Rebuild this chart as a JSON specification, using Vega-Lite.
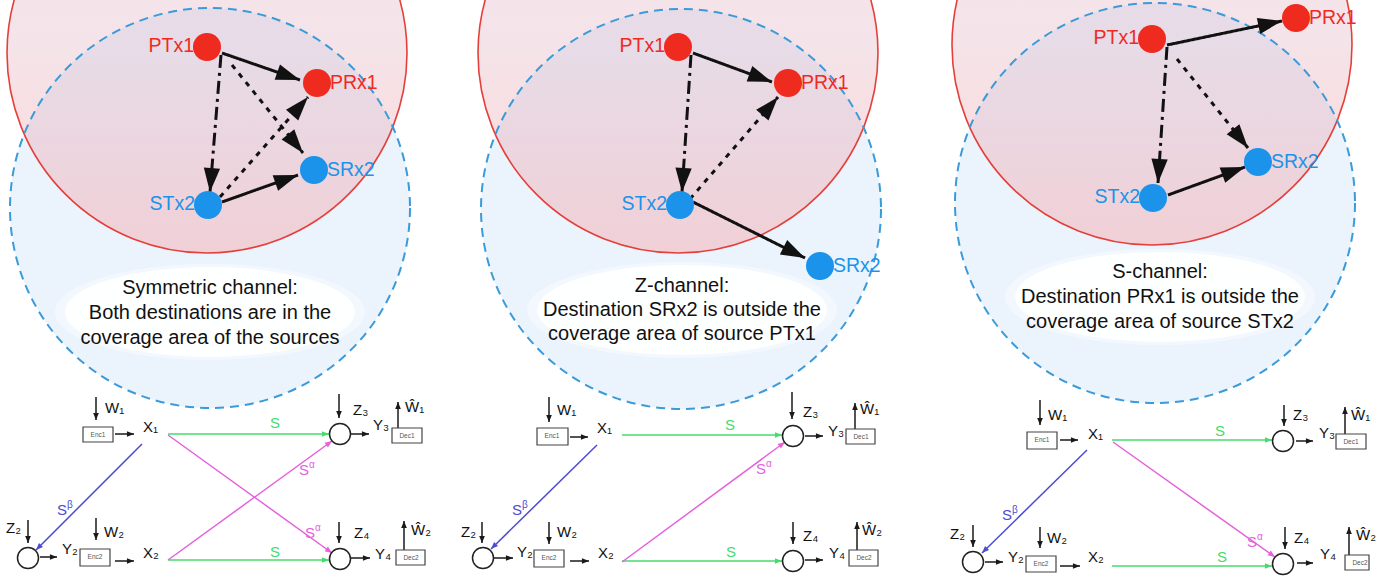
{
  "$schema": "https://vega.github.io/schema/vega-lite/v6.json",
  "width": 1391,
  "height": 576,
  "autosize": {"type": "none"},
  "padding": 0,
  "background": "white",
  "config": {"view": {"stroke": null}, "font": "Liberation Sans"},
  "datasets": {
    "zones": [
      {"panel": 1, "kind": "primary", "x": 207, "y": 53},
      {"panel": 1, "kind": "secondary", "x": 210, "y": 208},
      {"panel": 2, "kind": "primary", "x": 678, "y": 53},
      {"panel": 2, "kind": "secondary", "x": 681, "y": 209},
      {"panel": 3, "kind": "primary", "x": 1152, "y": 45},
      {"panel": 3, "kind": "secondary", "x": 1155, "y": 203}
    ],
    "captions": [
      {"panel": 1, "x": 210, "y": 312},
      {"panel": 2, "x": 682, "y": 310},
      {"panel": 3, "x": 1160, "y": 297}
    ],
    "captionLines": [
      {"panel": 1, "x": 210, "y": 288, "text": "Symmetric channel:"},
      {"panel": 1, "x": 210, "y": 313, "text": "Both destinations are in the"},
      {"panel": 1, "x": 210, "y": 338, "text": "coverage area of the sources"},
      {"panel": 2, "x": 682, "y": 286, "text": "Z-channel:"},
      {"panel": 2, "x": 682, "y": 310, "text": "Destination SRx2 is outside the"},
      {"panel": 2, "x": 682, "y": 334, "text": "coverage area of source PTx1"},
      {"panel": 3, "x": 1160, "y": 272, "text": "S-channel:"},
      {"panel": 3, "x": 1160, "y": 297, "text": "Destination PRx1 is outside the"},
      {"panel": 3, "x": 1160, "y": 322, "text": "coverage area of source STx2"}
    ],
    "nodes": [
      {"panel": 1, "name": "PTx1", "kind": "primary", "side": "left", "x": 207, "y": 47},
      {"panel": 1, "name": "PRx1", "kind": "primary", "side": "right", "x": 317, "y": 83},
      {"panel": 1, "name": "SRx2", "kind": "secondary", "side": "right", "x": 314, "y": 170},
      {"panel": 1, "name": "STx2", "kind": "secondary", "side": "left", "x": 208, "y": 205},
      {"panel": 2, "name": "PTx1", "kind": "primary", "side": "left", "x": 678, "y": 47},
      {"panel": 2, "name": "PRx1", "kind": "primary", "side": "right", "x": 788, "y": 83},
      {"panel": 2, "name": "STx2", "kind": "secondary", "side": "left", "x": 680, "y": 205},
      {"panel": 2, "name": "SRx2", "kind": "secondary", "side": "right", "x": 820, "y": 266},
      {"panel": 3, "name": "PTx1", "kind": "primary", "side": "left", "x": 1152, "y": 39},
      {"panel": 3, "name": "PRx1", "kind": "primary", "side": "right", "x": 1296, "y": 18},
      {"panel": 3, "name": "STx2", "kind": "secondary", "side": "left", "x": 1153, "y": 198},
      {"panel": 3, "name": "SRx2", "kind": "secondary", "side": "right", "x": 1258, "y": 162}
    ],
    "arrows": [
      {"panel": 1, "kind": "link-solid", "xa": 222, "ya": 53, "xb": 300, "yb": 80},
      {"panel": 1, "kind": "link-dashdot", "xa": 221, "ya": 55, "xb": 210, "yb": 192},
      {"panel": 1, "kind": "link-dotted", "xa": 232, "ya": 65, "xb": 303, "yb": 153},
      {"panel": 1, "kind": "link-dotted", "xa": 220, "ya": 197, "xb": 308, "yb": 97},
      {"panel": 1, "kind": "link-solid", "xa": 222, "ya": 202, "xb": 298, "yb": 175},
      {"panel": 1, "kind": "signal", "xa": 96, "ya": 397, "xb": 96, "yb": 420},
      {"panel": 1, "kind": "signal", "xa": 115, "ya": 434, "xb": 134, "yb": 434},
      {"panel": 1, "kind": "signal", "xa": 339, "ya": 394, "xb": 339, "yb": 418},
      {"panel": 1, "kind": "signal", "xa": 351, "ya": 434, "xb": 369, "yb": 434},
      {"panel": 1, "kind": "signal", "xa": 398, "ya": 428, "xb": 398, "yb": 402},
      {"panel": 1, "kind": "signal", "xa": 28, "ya": 520, "xb": 28, "yb": 543},
      {"panel": 1, "kind": "signal", "xa": 40, "ya": 557, "xb": 57, "yb": 557},
      {"panel": 1, "kind": "signal", "xa": 96, "ya": 518, "xb": 96, "yb": 540},
      {"panel": 1, "kind": "signal", "xa": 115, "ya": 561, "xb": 134, "yb": 561},
      {"panel": 1, "kind": "signal", "xa": 339, "ya": 522, "xb": 339, "yb": 543},
      {"panel": 1, "kind": "signal", "xa": 351, "ya": 558, "xb": 370, "yb": 558},
      {"panel": 1, "kind": "signal", "xa": 404, "ya": 550, "xb": 404, "yb": 521},
      {"panel": 1, "kind": "chan-direct", "xa": 168, "ya": 434, "xb": 329, "yb": 434},
      {"panel": 1, "kind": "chan-direct", "xa": 168, "ya": 560, "xb": 329, "yb": 560},
      {"panel": 1, "kind": "chan-cross", "xa": 168, "ya": 435, "xb": 332, "yb": 553},
      {"panel": 1, "kind": "chan-cross", "xa": 168, "ya": 560, "xb": 332, "yb": 441},
      {"panel": 1, "kind": "chan-beta", "xa": 142, "ya": 444, "xb": 36, "yb": 550},
      {"panel": 2, "kind": "link-solid", "xa": 693, "ya": 53, "xb": 772, "yb": 82},
      {"panel": 2, "kind": "link-dashdot", "xa": 691, "ya": 55, "xb": 682, "yb": 192},
      {"panel": 2, "kind": "link-dotted", "xa": 690, "ya": 199, "xb": 778, "yb": 97},
      {"panel": 2, "kind": "link-solid", "xa": 693, "ya": 202, "xb": 805, "yb": 258},
      {"panel": 2, "kind": "signal", "xa": 549, "ya": 397, "xb": 549, "yb": 422},
      {"panel": 2, "kind": "signal", "xa": 570, "ya": 437, "xb": 588, "yb": 437},
      {"panel": 2, "kind": "signal", "xa": 792, "ya": 392, "xb": 792, "yb": 419},
      {"panel": 2, "kind": "signal", "xa": 805, "ya": 436, "xb": 823, "yb": 436},
      {"panel": 2, "kind": "signal", "xa": 855, "ya": 429, "xb": 855, "yb": 403},
      {"panel": 2, "kind": "signal", "xa": 482, "ya": 522, "xb": 482, "yb": 543},
      {"panel": 2, "kind": "signal", "xa": 493, "ya": 558, "xb": 513, "yb": 558},
      {"panel": 2, "kind": "signal", "xa": 549, "ya": 522, "xb": 549, "yb": 544},
      {"panel": 2, "kind": "signal", "xa": 570, "ya": 561, "xb": 589, "yb": 561},
      {"panel": 2, "kind": "signal", "xa": 793, "ya": 522, "xb": 793, "yb": 544},
      {"panel": 2, "kind": "signal", "xa": 805, "ya": 560, "xb": 823, "yb": 560},
      {"panel": 2, "kind": "signal", "xa": 857, "ya": 550, "xb": 857, "yb": 522},
      {"panel": 2, "kind": "chan-direct", "xa": 622, "ya": 435, "xb": 782, "yb": 435},
      {"panel": 2, "kind": "chan-direct", "xa": 622, "ya": 561, "xb": 782, "yb": 561},
      {"panel": 2, "kind": "chan-cross", "xa": 622, "ya": 562, "xb": 785, "yb": 442},
      {"panel": 2, "kind": "chan-beta", "xa": 597, "ya": 445, "xb": 491, "yb": 549},
      {"panel": 3, "kind": "link-solid", "xa": 1167, "ya": 45, "xb": 1282, "yb": 21},
      {"panel": 3, "kind": "link-dashdot", "xa": 1167, "ya": 47, "xb": 1158, "yb": 183},
      {"panel": 3, "kind": "link-dotted", "xa": 1177, "ya": 59, "xb": 1248, "yb": 148},
      {"panel": 3, "kind": "link-solid", "xa": 1168, "ya": 195, "xb": 1245, "yb": 167},
      {"panel": 3, "kind": "signal", "xa": 1040, "ya": 400, "xb": 1040, "yb": 425},
      {"panel": 3, "kind": "signal", "xa": 1060, "ya": 440, "xb": 1078, "yb": 440},
      {"panel": 3, "kind": "signal", "xa": 1284, "ya": 405, "xb": 1284, "yb": 426},
      {"panel": 3, "kind": "signal", "xa": 1296, "ya": 441, "xb": 1313, "yb": 441},
      {"panel": 3, "kind": "signal", "xa": 1345, "ya": 434, "xb": 1345, "yb": 407},
      {"panel": 3, "kind": "signal", "xa": 973, "ya": 525, "xb": 973, "yb": 547},
      {"panel": 3, "kind": "signal", "xa": 985, "ya": 562, "xb": 1003, "yb": 562},
      {"panel": 3, "kind": "signal", "xa": 1040, "ya": 527, "xb": 1040, "yb": 548},
      {"panel": 3, "kind": "signal", "xa": 1060, "ya": 566, "xb": 1080, "yb": 566},
      {"panel": 3, "kind": "signal", "xa": 1285, "ya": 527, "xb": 1285, "yb": 549},
      {"panel": 3, "kind": "signal", "xa": 1297, "ya": 563, "xb": 1313, "yb": 563},
      {"panel": 3, "kind": "signal", "xa": 1349, "ya": 555, "xb": 1349, "yb": 527},
      {"panel": 3, "kind": "chan-direct", "xa": 1112, "ya": 440, "xb": 1272, "yb": 440},
      {"panel": 3, "kind": "chan-direct", "xa": 1112, "ya": 566, "xb": 1272, "yb": 566},
      {"panel": 3, "kind": "chan-cross", "xa": 1113, "ya": 442, "xb": 1275, "yb": 557},
      {"panel": 3, "kind": "chan-beta", "xa": 1087, "ya": 450, "xb": 982, "yb": 553}
    ],
    "receivers": [
      {"panel": 1, "name": "Y3", "x": 340, "y": 434},
      {"panel": 1, "name": "Y4", "x": 340, "y": 559},
      {"panel": 1, "name": "Y2", "x": 28, "y": 558},
      {"panel": 2, "name": "Y3", "x": 793, "y": 436},
      {"panel": 2, "name": "Y4", "x": 793, "y": 561},
      {"panel": 2, "name": "Y2", "x": 483, "y": 558},
      {"panel": 3, "name": "Y3", "x": 1283, "y": 441},
      {"panel": 3, "name": "Y4", "x": 1283, "y": 564},
      {"panel": 3, "name": "Y2", "x": 973, "y": 562}
    ],
    "boxes": [
      {"panel": 1, "name": "Enc1", "x": 83, "x2": 113, "y": 427, "y2": 442},
      {"panel": 1, "name": "Dec1", "x": 392, "x2": 422, "y": 428, "y2": 443},
      {"panel": 1, "name": "Enc2", "x": 80, "x2": 110, "y": 549, "y2": 566},
      {"panel": 1, "name": "Dec2", "x": 396, "x2": 425, "y": 550, "y2": 565},
      {"panel": 2, "name": "Enc1", "x": 537, "x2": 568, "y": 428, "y2": 445},
      {"panel": 2, "name": "Dec1", "x": 846, "x2": 875, "y": 429, "y2": 444},
      {"panel": 2, "name": "Enc2", "x": 534, "x2": 564, "y": 550, "y2": 567},
      {"panel": 2, "name": "Dec2", "x": 849, "x2": 878, "y": 550, "y2": 566},
      {"panel": 3, "name": "Enc1", "x": 1027, "x2": 1057, "y": 432, "y2": 449},
      {"panel": 3, "name": "Dec1", "x": 1336, "x2": 1366, "y": 434, "y2": 449},
      {"panel": 3, "name": "Enc2", "x": 1026, "x2": 1056, "y": 556, "y2": 572},
      {"panel": 3, "name": "Dec2", "x": 1345, "x2": 1369, "y": 555, "y2": 570}
    ],
    "symbols": [
      {"panel": 1, "text": "W₁", "x": 105, "y": 408},
      {"panel": 1, "text": "X₁", "x": 143, "y": 427},
      {"panel": 1, "text": "Z₃", "x": 353, "y": 410},
      {"panel": 1, "text": "Y₃", "x": 373, "y": 425},
      {"panel": 1, "text": "Ŵ₁", "x": 405, "y": 407},
      {"panel": 1, "text": "Z₂", "x": 6, "y": 528},
      {"panel": 1, "text": "Y₂", "x": 62, "y": 549},
      {"panel": 1, "text": "W₂", "x": 104, "y": 532},
      {"panel": 1, "text": "X₂", "x": 143, "y": 553},
      {"panel": 1, "text": "Z₄", "x": 354, "y": 533},
      {"panel": 1, "text": "Y₄", "x": 375, "y": 554},
      {"panel": 1, "text": "Ŵ₂", "x": 411, "y": 530},
      {"panel": 2, "text": "W₁", "x": 557, "y": 410},
      {"panel": 2, "text": "X₁", "x": 597, "y": 428},
      {"panel": 2, "text": "Z₃", "x": 803, "y": 412},
      {"panel": 2, "text": "Y₃", "x": 828, "y": 431},
      {"panel": 2, "text": "Ŵ₁", "x": 860, "y": 409},
      {"panel": 2, "text": "Z₂", "x": 461, "y": 532},
      {"panel": 2, "text": "Y₂", "x": 517, "y": 552},
      {"panel": 2, "text": "W₂", "x": 557, "y": 532},
      {"panel": 2, "text": "X₂", "x": 598, "y": 553},
      {"panel": 2, "text": "Z₄", "x": 803, "y": 536},
      {"panel": 2, "text": "Y₄", "x": 829, "y": 553},
      {"panel": 2, "text": "Ŵ₂", "x": 862, "y": 530},
      {"panel": 3, "text": "W₁", "x": 1048, "y": 415},
      {"panel": 3, "text": "X₁", "x": 1088, "y": 434},
      {"panel": 3, "text": "Z₃", "x": 1293, "y": 415},
      {"panel": 3, "text": "Y₃", "x": 1319, "y": 433},
      {"panel": 3, "text": "Ŵ₁", "x": 1351, "y": 415},
      {"panel": 3, "text": "Z₂", "x": 950, "y": 534},
      {"panel": 3, "text": "Y₂", "x": 1008, "y": 557},
      {"panel": 3, "text": "W₂", "x": 1047, "y": 538},
      {"panel": 3, "text": "X₂", "x": 1088, "y": 557},
      {"panel": 3, "text": "Z₄", "x": 1294, "y": 538},
      {"panel": 3, "text": "Y₄", "x": 1320, "y": 554},
      {"panel": 3, "text": "Ŵ₂", "x": 1356, "y": 535}
    ],
    "gains": [
      {"panel": 1, "kind": "chan-direct", "sym": "S", "sup": "", "x": 275, "y": 423},
      {"panel": 1, "kind": "chan-direct", "sym": "S", "sup": "", "x": 275, "y": 552},
      {"panel": 1, "kind": "chan-cross", "sym": "S", "sup": "α", "x": 304, "y": 470},
      {"panel": 1, "kind": "chan-cross", "sym": "S", "sup": "α", "x": 310, "y": 533},
      {"panel": 1, "kind": "chan-beta", "sym": "S", "sup": "β", "x": 62, "y": 510},
      {"panel": 2, "kind": "chan-direct", "sym": "S", "sup": "", "x": 730, "y": 425},
      {"panel": 2, "kind": "chan-direct", "sym": "S", "sup": "", "x": 731, "y": 552},
      {"panel": 2, "kind": "chan-cross", "sym": "S", "sup": "α", "x": 761, "y": 469},
      {"panel": 2, "kind": "chan-beta", "sym": "S", "sup": "β", "x": 517, "y": 510},
      {"panel": 3, "kind": "chan-direct", "sym": "S", "sup": "", "x": 1220, "y": 431},
      {"panel": 3, "kind": "chan-direct", "sym": "S", "sup": "", "x": 1222, "y": 557},
      {"panel": 3, "kind": "chan-cross", "sym": "S", "sup": "α", "x": 1252, "y": 542},
      {"panel": 3, "kind": "chan-beta", "sym": "S", "sup": "β", "x": 1007, "y": 515}
    ]
  },
  "layer": [
    {
      "data": {"name": "zones"},
      "transform": [{"filter": "datum.kind === 'secondary'"}],
      "mark": {"type": "point", "shape": "circle", "size": 160000, "filled": true, "fill": "#ebf4fd", "opacity": 1, "strokeWidth": 0, "clip": true},
      "encoding": {
        "x": {"field": "x", "type": "quantitative", "scale": {"domain": [0, 1391], "nice": false, "zero": false}, "axis": null},
        "y": {"field": "y", "type": "quantitative", "scale": {"domain": [0, 576], "nice": false, "zero": false, "reverse": true}, "axis": null}
      }
    },
    {
      "data": {"name": "zones"},
      "transform": [{"filter": "datum.kind === 'primary'"}],
      "mark": {"type": "point", "shape": "circle", "size": 160000, "filled": true, "opacity": 0.3, "strokeWidth": 0, "clip": true,
        "fill": {"gradient": "linear", "x1": 0, "y1": 0, "x2": 0, "y2": 1, "stops": [
          {"offset": 0, "color": "#d9a8c0"},
          {"offset": 0.5, "color": "#dca2b2"},
          {"offset": 1, "color": "#ff7a7c"}
        ]}},
      "encoding": {
        "x": {"field": "x", "type": "quantitative", "scale": {"domain": [0, 1391], "nice": false, "zero": false}, "axis": null},
        "y": {"field": "y", "type": "quantitative", "scale": {"domain": [0, 576], "nice": false, "zero": false, "reverse": true}, "axis": null}
      }
    },
    {
      "data": {"name": "zones"},
      "transform": [{"filter": "datum.kind === 'primary'"}],
      "mark": {"type": "point", "shape": "circle", "size": 160000, "filled": false, "stroke": "#e4403b", "strokeWidth": 1.6, "opacity": 1, "clip": true},
      "encoding": {
        "x": {"field": "x", "type": "quantitative", "scale": {"domain": [0, 1391], "nice": false, "zero": false}, "axis": null},
        "y": {"field": "y", "type": "quantitative", "scale": {"domain": [0, 576], "nice": false, "zero": false, "reverse": true}, "axis": null}
      }
    },
    {
      "data": {"name": "zones"},
      "transform": [{"filter": "datum.kind === 'secondary'"}],
      "mark": {"type": "point", "shape": "circle", "size": 160000, "filled": false, "stroke": "#3b9ad8", "strokeWidth": 2, "strokeDash": [9, 6], "opacity": 1, "clip": true},
      "encoding": {
        "x": {"field": "x", "type": "quantitative", "scale": {"domain": [0, 1391], "nice": false, "zero": false}, "axis": null},
        "y": {"field": "y", "type": "quantitative", "scale": {"domain": [0, 576], "nice": false, "zero": false, "reverse": true}, "axis": null}
      }
    },
    {
      "data": {"name": "captions"},
      "mark": {"type": "point", "shape": "M-1,0A1,0.31,0,1,0,1,0A1,0.31,0,1,0,-1,0Z", "size": 96000, "filled": true, "fill": "white", "opacity": 0.4, "strokeWidth": 0},
      "encoding": {
        "x": {"field": "x", "type": "quantitative", "scale": {"domain": [0, 1391], "nice": false, "zero": false}, "axis": null},
        "y": {"field": "y", "type": "quantitative", "scale": {"domain": [0, 576], "nice": false, "zero": false, "reverse": true}, "axis": null}
      }
    },
    {
      "data": {"name": "captions"},
      "mark": {"type": "point", "shape": "M-1,0A1,0.31,0,1,0,1,0A1,0.31,0,1,0,-1,0Z", "size": 84000, "filled": true, "fill": "white", "opacity": 0.92, "strokeWidth": 0},
      "encoding": {
        "x": {"field": "x", "type": "quantitative", "scale": {"domain": [0, 1391], "nice": false, "zero": false}, "axis": null},
        "y": {"field": "y", "type": "quantitative", "scale": {"domain": [0, 576], "nice": false, "zero": false, "reverse": true}, "axis": null}
      }
    },
    {
      "data": {"name": "captionLines"},
      "mark": {"type": "text", "fontSize": 20, "align": "center", "baseline": "middle", "color": "#111111"},
      "encoding": {
        "x": {"field": "x", "type": "quantitative", "scale": {"domain": [0, 1391], "nice": false, "zero": false}, "axis": null},
        "y": {"field": "y", "type": "quantitative", "scale": {"domain": [0, 576], "nice": false, "zero": false, "reverse": true}, "axis": null},
        "text": {"field": "text"}
      }
    },
    {
      "data": {"name": "arrows"},
      "transform": [{"filter": "indexof(datum.kind, 'link') === 0"}],
      "mark": {"type": "rule", "strokeCap": "butt", "strokeWidth": 3, "color": "#111111"},
      "encoding": {
        "x": {"field": "xa", "type": "quantitative", "scale": {"domain": [0, 1391], "nice": false, "zero": false}, "axis": null},
        "y": {"field": "ya", "type": "quantitative", "scale": {"domain": [0, 576], "nice": false, "zero": false, "reverse": true}, "axis": null},
        "x2": {"field": "xb"},
        "y2": {"field": "yb"},
        "strokeDash": {"field": "kind", "type": "nominal", "legend": null, "scale": {"domain": ["link-solid", "link-dashdot", "link-dotted"], "range": [[1, 0], [13, 5, 3, 5], [5, 6]]}}
      }
    },
    {
      "data": {"name": "arrows"},
      "transform": [{"filter": "indexof(datum.kind, 'link') !== 0"}],
      "mark": {"type": "rule", "strokeCap": "butt", "strokeWidth": 1.5},
      "encoding": {
        "x": {"field": "xa", "type": "quantitative", "scale": {"domain": [0, 1391], "nice": false, "zero": false}, "axis": null},
        "y": {"field": "ya", "type": "quantitative", "scale": {"domain": [0, 576], "nice": false, "zero": false, "reverse": true}, "axis": null},
        "x2": {"field": "xb"},
        "y2": {"field": "yb"},
        "color": {"field": "kind", "type": "nominal", "legend": null, "scale": {"domain": ["primary", "secondary", "signal", "chan-direct", "chan-cross", "chan-beta"], "range": ["#ef2a1e", "#1b93eb", "#1a1a1a", "#44dc6c", "#e561dd", "#4c4cd2"]}}
      }
    },
    {
      "data": {"name": "arrows"},
      "transform": [
        {"filter": "indexof(datum.kind, 'link') === 0"},
        {"calculate": "atan2(datum.xb - datum.xa, datum.ya - datum.yb) * 180 / PI", "as": "heading"}
      ],
      "mark": {"type": "point", "shape": "M0,0L-0.34,1L0.34,1Z", "size": 2304, "filled": true, "color": "#111111", "opacity": 1, "strokeWidth": 0},
      "encoding": {
        "x": {"field": "xb", "type": "quantitative", "scale": {"domain": [0, 1391], "nice": false, "zero": false}, "axis": null},
        "y": {"field": "yb", "type": "quantitative", "scale": {"domain": [0, 576], "nice": false, "zero": false, "reverse": true}, "axis": null},
        "angle": {"field": "heading", "type": "quantitative", "scale": null}
      }
    },
    {
      "data": {"name": "arrows"},
      "transform": [
        {"filter": "indexof(datum.kind, 'link') !== 0"},
        {"calculate": "atan2(datum.xb - datum.xa, datum.ya - datum.yb) * 180 / PI", "as": "heading"}
      ],
      "mark": {"type": "point", "shape": "M0,0L-0.4,1L0.4,1Z", "size": 200, "filled": true, "opacity": 1, "strokeWidth": 0},
      "encoding": {
        "x": {"field": "xb", "type": "quantitative", "scale": {"domain": [0, 1391], "nice": false, "zero": false}, "axis": null},
        "y": {"field": "yb", "type": "quantitative", "scale": {"domain": [0, 576], "nice": false, "zero": false, "reverse": true}, "axis": null},
        "angle": {"field": "heading", "type": "quantitative", "scale": null},
        "color": {"field": "kind", "type": "nominal", "legend": null, "scale": {"domain": ["primary", "secondary", "signal", "chan-direct", "chan-cross", "chan-beta"], "range": ["#ef2a1e", "#1b93eb", "#1a1a1a", "#44dc6c", "#e561dd", "#4c4cd2"]}}
      }
    },
    {
      "data": {"name": "nodes"},
      "mark": {"type": "point", "shape": "circle", "size": 784, "filled": true, "opacity": 1, "strokeWidth": 0},
      "encoding": {
        "x": {"field": "x", "type": "quantitative", "scale": {"domain": [0, 1391], "nice": false, "zero": false}, "axis": null},
        "y": {"field": "y", "type": "quantitative", "scale": {"domain": [0, 576], "nice": false, "zero": false, "reverse": true}, "axis": null},
        "color": {"field": "kind", "type": "nominal", "legend": null, "scale": {"domain": ["primary", "secondary", "signal", "chan-direct", "chan-cross", "chan-beta"], "range": ["#ef2a1e", "#1b93eb", "#1a1a1a", "#44dc6c", "#e561dd", "#4c4cd2"]}}
      }
    },
    {
      "data": {"name": "nodes"},
      "transform": [{"filter": "datum.side === 'left'"}],
      "mark": {"type": "text", "fontSize": 19.5, "align": "right", "baseline": "middle", "dx": -13, "dy": -1},
      "encoding": {
        "x": {"field": "x", "type": "quantitative", "scale": {"domain": [0, 1391], "nice": false, "zero": false}, "axis": null},
        "y": {"field": "y", "type": "quantitative", "scale": {"domain": [0, 576], "nice": false, "zero": false, "reverse": true}, "axis": null},
        "text": {"field": "name"},
        "color": {"field": "kind", "type": "nominal", "legend": null, "scale": {"domain": ["primary", "secondary", "signal", "chan-direct", "chan-cross", "chan-beta"], "range": ["#ef2a1e", "#1b93eb", "#1a1a1a", "#44dc6c", "#e561dd", "#4c4cd2"]}}
      }
    },
    {
      "data": {"name": "nodes"},
      "transform": [{"filter": "datum.side === 'right'"}],
      "mark": {"type": "text", "fontSize": 19.5, "align": "left", "baseline": "middle", "dx": 13, "dy": 0},
      "encoding": {
        "x": {"field": "x", "type": "quantitative", "scale": {"domain": [0, 1391], "nice": false, "zero": false}, "axis": null},
        "y": {"field": "y", "type": "quantitative", "scale": {"domain": [0, 576], "nice": false, "zero": false, "reverse": true}, "axis": null},
        "text": {"field": "name"},
        "color": {"field": "kind", "type": "nominal", "legend": null, "scale": {"domain": ["primary", "secondary", "signal", "chan-direct", "chan-cross", "chan-beta"], "range": ["#ef2a1e", "#1b93eb", "#1a1a1a", "#44dc6c", "#e561dd", "#4c4cd2"]}}
      }
    },
    {
      "data": {"name": "receivers"},
      "mark": {"type": "point", "shape": "circle", "size": 441, "filled": false, "stroke": "#222222", "strokeWidth": 1.5, "opacity": 1},
      "encoding": {
        "x": {"field": "x", "type": "quantitative", "scale": {"domain": [0, 1391], "nice": false, "zero": false}, "axis": null},
        "y": {"field": "y", "type": "quantitative", "scale": {"domain": [0, 576], "nice": false, "zero": false, "reverse": true}, "axis": null}
      }
    },
    {
      "data": {"name": "boxes"},
      "mark": {"type": "rect", "fill": "white", "stroke": "#444444", "strokeWidth": 1.2},
      "encoding": {
        "x": {"field": "x", "type": "quantitative", "scale": {"domain": [0, 1391], "nice": false, "zero": false}, "axis": null},
        "x2": {"field": "x2"},
        "y": {"field": "y", "type": "quantitative", "scale": {"domain": [0, 576], "nice": false, "zero": false, "reverse": true}, "axis": null},
        "y2": {"field": "y2"}
      }
    },
    {
      "data": {"name": "boxes"},
      "mark": {"type": "text", "fontSize": 6.5, "align": "center", "baseline": "middle", "dx": 15, "dy": 8, "color": "#555555"},
      "encoding": {
        "x": {"field": "x", "type": "quantitative", "scale": {"domain": [0, 1391], "nice": false, "zero": false}, "axis": null},
        "y": {"field": "y", "type": "quantitative", "scale": {"domain": [0, 576], "nice": false, "zero": false, "reverse": true}, "axis": null},
        "text": {"field": "name"}
      }
    },
    {
      "data": {"name": "symbols"},
      "mark": {"type": "text", "fontSize": 15, "align": "left", "baseline": "middle", "color": "#111111"},
      "encoding": {
        "x": {"field": "x", "type": "quantitative", "scale": {"domain": [0, 1391], "nice": false, "zero": false}, "axis": null},
        "y": {"field": "y", "type": "quantitative", "scale": {"domain": [0, 576], "nice": false, "zero": false, "reverse": true}, "axis": null},
        "text": {"field": "text"}
      }
    },
    {
      "data": {"name": "gains"},
      "mark": {"type": "text", "fontSize": 15, "align": "center", "baseline": "middle"},
      "encoding": {
        "x": {"field": "x", "type": "quantitative", "scale": {"domain": [0, 1391], "nice": false, "zero": false}, "axis": null},
        "y": {"field": "y", "type": "quantitative", "scale": {"domain": [0, 576], "nice": false, "zero": false, "reverse": true}, "axis": null},
        "text": {"field": "sym"},
        "color": {"field": "kind", "type": "nominal", "legend": null, "scale": {"domain": ["primary", "secondary", "signal", "chan-direct", "chan-cross", "chan-beta"], "range": ["#ef2a1e", "#1b93eb", "#1a1a1a", "#44dc6c", "#e561dd", "#4c4cd2"]}}
      }
    },
    {
      "data": {"name": "gains"},
      "mark": {"type": "text", "fontSize": 10, "align": "left", "baseline": "middle", "dx": 5, "dy": -5},
      "encoding": {
        "x": {"field": "x", "type": "quantitative", "scale": {"domain": [0, 1391], "nice": false, "zero": false}, "axis": null},
        "y": {"field": "y", "type": "quantitative", "scale": {"domain": [0, 576], "nice": false, "zero": false, "reverse": true}, "axis": null},
        "text": {"field": "sup"},
        "color": {"field": "kind", "type": "nominal", "legend": null, "scale": {"domain": ["primary", "secondary", "signal", "chan-direct", "chan-cross", "chan-beta"], "range": ["#ef2a1e", "#1b93eb", "#1a1a1a", "#44dc6c", "#e561dd", "#4c4cd2"]}}
      }
    }
  ]
}
